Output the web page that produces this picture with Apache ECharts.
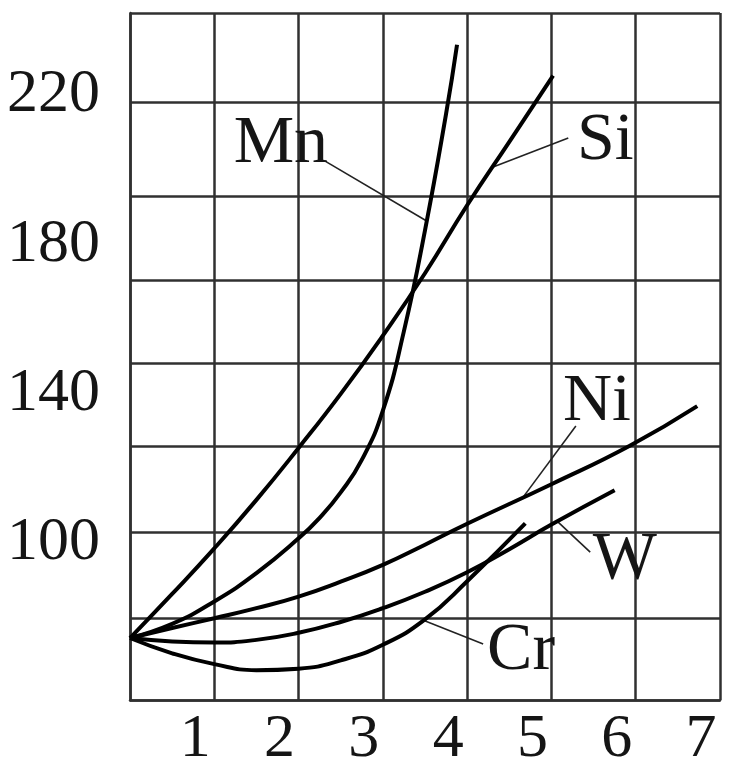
<!DOCTYPE html>
<html>
<head>
<meta charset="utf-8">
<script src="https://cdn.jsdelivr.net/npm/echarts@6/dist/echarts.min.js"></script>
<style>
html,body{margin:0;padding:0;background:#fff;}
#chart{width:733px;height:771px;}
</style>
</head>
<body>
<div id="chart"></div>
<script>
// ---- data ----
const xTickLabels = [1, 2, 3, 4, 5, 6, 7];
const yTickLabels = [100, 140, 180, 220];
const yGridValues = [58, 80, 103, 126, 148.3, 170.5, 193, 218, 242];

const mnX = [0, 0.5, 1, 1.5, 2, 2.25, 2.5, 2.75, 3, 3.25, 3.5, 3.75, 3.88];
const mnY = [74.6, 78.4, 84.4, 92.0, 101.3, 106.8, 113.6, 122.3, 135.5, 156.8, 183.8, 215.0, 233.5];

const siX = [0, 0.5, 1, 1.5, 2, 2.5, 3, 3.5, 4, 4.5, 5.02];
const siY = [74.6, 86.4, 98.6, 111.6, 125.5, 140.0, 155.6, 172.3, 190.5, 207.5, 225.2];

const niX = [0, 0.5, 1, 1.5, 2, 2.5, 3, 3.5, 4, 5, 5.93, 6.73];
const niY = [74.6, 77.3, 79.9, 82.6, 85.7, 89.7, 94.2, 99.6, 105.2, 115.8, 126.1, 136.7];

const wX = [0, 0.5, 1, 1.5, 2, 2.5, 3, 3.5, 4, 4.5, 5, 5.75];
const wY = [74.6, 73.7, 73.4, 74.1, 76.0, 78.9, 82.6, 87.0, 92.2, 98.4, 105.0, 114.2];

const crX = [0, 0.5, 1, 1.5, 2, 2.5, 3, 3.5, 4, 4.69];
const crY = [74.6, 70.5, 67.6, 66.0, 66.4, 68.6, 72.8, 79.6, 89.8, 105.3];

// annotation: label text position, leader start, leader end x on the curve
const seriesNames = ['Mn', 'Si', 'Ni', 'W', 'Cr'];
const labelX = [1.79, 5.64, 5.54, 5.87, 4.64];
const labelY = [206.9, 207.7, 137.7, 95.5, 71.2];
const leaderStartX = [2.31, 5.20, 5.29, 5.46, 4.19];
const leaderStartY = [202.4, 208.5, 131.4, 97.6, 73.0];
const leaderEndX = [3.52, 4.30, 4.66, 5.07, 3.48];

// ---- build ----
const curves = [[mnX, mnY], [siX, siY], [niX, niY], [wX, wY], [crX, crY]];
function pairs(xs, ys) { return xs.map((x, i) => [x, ys[i]]); }
function interp(xs, ys, x) {
  for (let i = 0; i < xs.length - 1; i++) {
    if (x >= xs[i] && x <= xs[i + 1]) {
      const t = (x - xs[i]) / (xs[i + 1] - xs[i]);
      return ys[i] + t * (ys[i + 1] - ys[i]);
    }
  }
  return ys[ys.length - 1];
}

const FONT = 'Liberation Serif';
const TXT = '#151515';
const GRID = '#303030';

const series = curves.map((c, i) => ({
  name: seriesNames[i],
  type: 'line',
  data: pairs(c[0], c[1]),
  smooth: 0.5,
  showSymbol: false,
  symbol: 'none',
  lineStyle: { color: '#000', width: 4 },
  z: 5,
  markLine: {
    silent: true,
    symbol: 'none',
    animation: false,
    label: { show: false },
    lineStyle: { color: '#222', width: 1.6, type: 'solid' },
    data: [[
      { coord: [leaderStartX[i], leaderStartY[i]] },
      { coord: [leaderEndX[i], interp(c[0], c[1], leaderEndX[i])] }
    ]]
  },
  markPoint: {
    silent: true,
    symbol: 'circle',
    symbolSize: 0,
    animation: false,
    label: {
      show: true,
      formatter: seriesNames[i],
      fontFamily: FONT,
      fontSize: 68,
      color: TXT,
      position: 'inside'
    },
    data: [{ coord: [labelX[i], labelY[i]] }]
  }
}));

const chart = echarts.init(document.getElementById('chart'), null, { renderer: 'canvas' });
chart.setOption({
  animation: false,
  backgroundColor: '#fff',
  grid: { left: 130, right: 13, top: 13, bottom: 61, containLabel: false },
  xAxis: {
    type: 'value',
    min: 0, max: 7, interval: 1,
    axisLine: { show: true, lineStyle: { color: GRID, width: 2.5 } },
    axisTick: { show: false },
    splitLine: { show: true, lineStyle: { color: GRID, width: 2.5 } },
    axisLabel: {
      customValues: xTickLabels,
      fontFamily: FONT, fontSize: 62, color: TXT,
      margin: 9,
      padding: [0, 38, 0, 0]
    }
  },
  yAxis: {
    type: 'value',
    min: 58, max: 242,
    axisLine: { show: true, lineStyle: { color: GRID, width: 2.5 } },
    axisTick: { show: false, customValues: yGridValues },
    splitLine: { show: true, lineStyle: { color: GRID, width: 2.5 } },
    axisLabel: {
      customValues: yTickLabels,
      fontFamily: FONT, fontSize: 62, color: TXT,
      margin: 30
    }
  },
  series: series
});
</script>
</body>
</html>
